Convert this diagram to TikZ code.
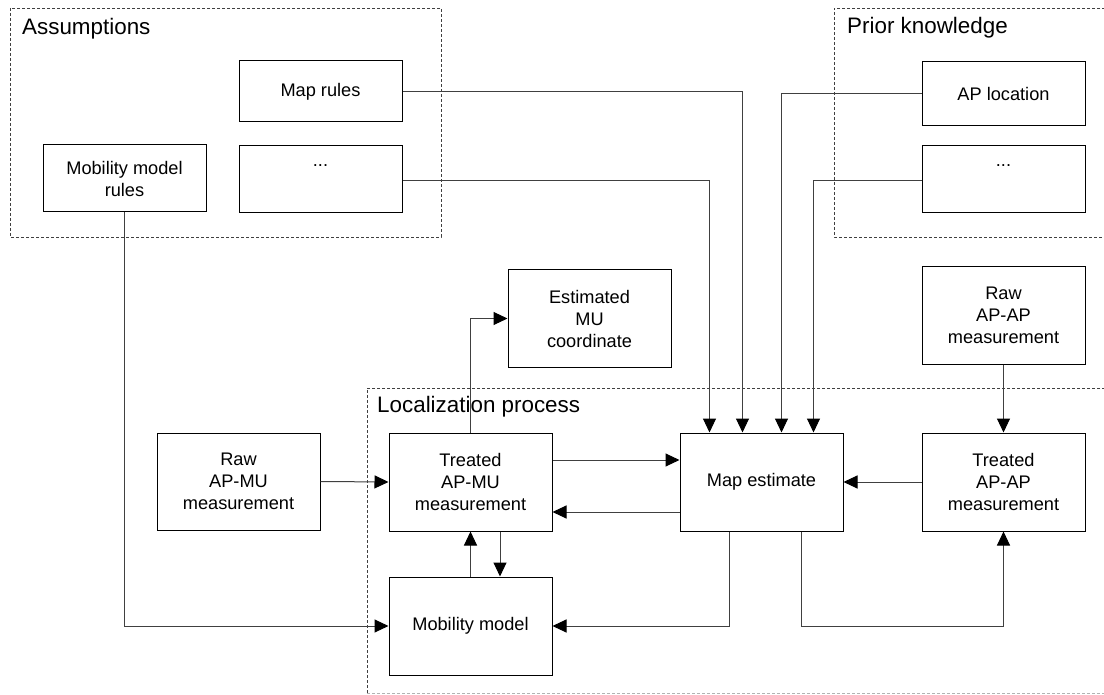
\documentclass[tikz,border=0pt]{standalone}
\usepackage{fontspec}
\setmainfont{Liberation Sans}
\usetikzlibrary{arrows.meta}
\tikzset{
  blk/.style={draw=black, line width=1pt, minimum width=163pt, inner sep=0pt, align=center,
    font=\fontsize{18.2}{22}\selectfont},
  conn/.style={draw=black!75, line width=1pt},
  arr/.style={conn, -{Triangle[length=14pt,width=13pt,color=black]}},
  grp/.style={draw=black!75, line width=0.9pt, dash pattern=on 3pt off 2pt},
  grplbl/.style={font=\fontsize{22.4}{26}\selectfont, inner sep=0pt, anchor=base west}
}
\begin{document}
\begin{tikzpicture}[x=1pt,y=-1pt]
\useasboundingbox (0,0) rectangle (1104,695);
% groups
\draw[grp] (10,8) rectangle (441,237);
\draw[grp] (1110,8) -- (834,8) -- (834,237) -- (1110,237);
\draw[grp] (1110,388) -- (367,388) -- (367,693);
\draw[grp, draw=black!30] (367,693) -- (1110,693);
\node[grplbl] (lassump) at (22,35) {Assumptions};
\node[grplbl] (lprior) at (847,34) {Prior knowledge};
\node[grplbl] (lloc) at (377,412) {Localization process};
% blocks
\node[blk, minimum height=61pt] (maprules) at (320.5,91.5) {Map rules};
\node[blk, minimum height=67pt] (dotsL) at (320.5,179.5) {...\\[0pt]\strut};
\node[blk, minimum height=67pt] (mobrules) at (124.5,178.5) {Mobility model\\rules};
\node[blk, minimum height=64pt] (aploc) at (1003.5,94) {AP location};
\node[blk, minimum height=67pt] (dotsR) at (1003.5,179.5) {...\\[0pt]\strut};
\node[blk, minimum height=97pt] (estmu) at (589.5,318.5) {Estimated\\MU\\coordinate};
\node[blk, minimum height=97pt] (rawapap) at (1003.5,315.5) {Raw\\AP-AP\\measurement};
\node[blk, minimum height=97pt] (rawapmu) at (238.5,481.5) {Raw\\AP-MU\\measurement};
\node[blk, minimum height=98pt] (treatmu) at (470.5,482) {Treated\\AP-MU\\measurement};
\node[blk, minimum height=98pt] (mapest) at (761.5,482) {Map estimate};
\node[blk, minimum height=98pt] (treatap) at (1003.5,482) {Treated\\AP-AP\\measurement};
\node[blk, minimum height=98pt] (mobmodel) at (470.5,626) {Mobility model};
% connectors
\draw[arr] (maprules.east) -| ([xshift=63pt]mapest.north west);
\draw[arr] (dotsL.east |- 0,181) -| ([xshift=30pt]mapest.north west);
\draw[arr] (aploc.west) -| ([xshift=102pt]mapest.north west);
\draw[arr] (dotsR.west |- 0,181) -| ([xshift=134pt]mapest.north west);
\draw[arr] (mobrules.south) |- (mobmodel.west);
\draw[arr] (rawapmu.east) -- (treatmu.west);
\draw[arr] (treatmu.north) |- (estmu.west);
\draw[arr] (treatmu.east |- 0,460) -- (mapest.west |- 0,460);
\draw[arr] (mapest.west |- 0,512) -- (treatmu.east |- 0,512);
\draw[arr] (mobmodel.north) -- (treatmu.south);
\draw[arr] ([xshift=29.5pt]treatmu.south) -- ([xshift=29.5pt]mobmodel.north);
\draw[arr] ([xshift=-32.5pt]mapest.south) |- (mobmodel.east);
\draw[arr] ([xshift=39.5pt]mapest.south) -- ++(0,95) -| (treatap.south);
\draw[arr] (treatap.west) -- (mapest.east);
\draw[arr] (rawapap.south) -- (treatap.north);
\end{tikzpicture}
\end{document}
